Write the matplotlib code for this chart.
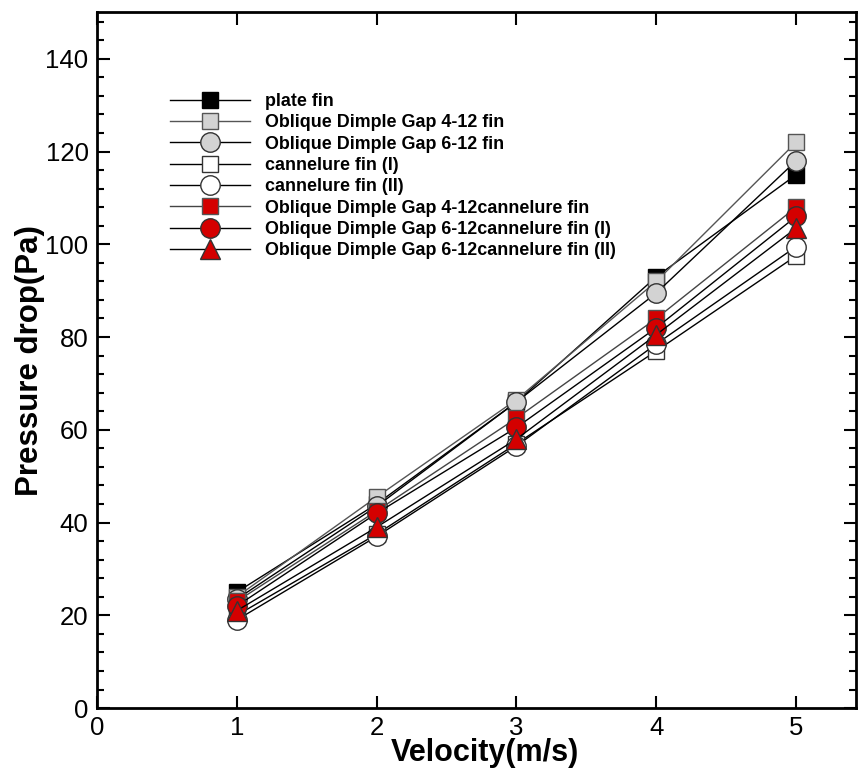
import matplotlib
matplotlib.use("Agg")
import matplotlib.pyplot as plt
from matplotlib.ticker import MultipleLocator

plt.rcParams['font.family'] = ['Liberation Sans', 'DejaVu Sans']

velocity = [1, 2, 3, 4, 5]

plate_fin = [25.0, 44.0, 66.0, 93.0, 115.0]
odg_4_12 = [24.0, 45.5, 66.5, 92.0, 122.0]
odg_6_12 = [23.5, 43.5, 66.0, 89.5, 118.0]
cannelure_1 = [20.0, 37.5, 57.0, 77.0, 97.5]
cannelure_2 = [19.0, 37.0, 56.5, 78.5, 99.5]
odg_4_12_cann = [23.0, 42.5, 62.5, 84.0, 108.0]
odg_6_12_cann_1 = [22.0, 42.0, 60.5, 82.0, 106.0]
odg_6_12_cann_2 = [21.0, 39.0, 58.0, 80.5, 103.5]

labels = [
    "plate fin",
    "Oblique Dimple Gap 4-12 fin",
    "Oblique Dimple Gap 6-12 fin",
    "cannelure fin (I)",
    "cannelure fin (II)",
    "Oblique Dimple Gap 4-12cannelure fin",
    "Oblique Dimple Gap 6-12cannelure fin (I)",
    "Oblique Dimple Gap 6-12cannelure fin (II)",
]
series = [plate_fin, odg_4_12, odg_6_12, cannelure_1, cannelure_2,
          odg_4_12_cann, odg_6_12_cann_1, odg_6_12_cann_2]

styles = [
    dict(marker='s', mfc='black', mec='black', ms=11, color='black'),
    dict(marker='s', mfc='#d3d3d3', mec='#555555', ms=11, color='#555555'),
    dict(marker='o', mfc='#d3d3d3', mec='#333333', ms=14, color='black'),
    dict(marker='s', mfc='white', mec='#333333', ms=11, color='black'),
    dict(marker='o', mfc='white', mec='#333333', ms=14, color='black'),
    dict(marker='s', mfc='#d40000', mec='#555555', ms=11, color='#444444'),
    dict(marker='o', mfc='#d40000', mec='#333333', ms=14, color='black'),
    dict(marker='^', mfc='#d40000', mec='#333333', ms=14, color='black'),
]

fig = plt.figure(figsize=(8.58, 7.73), dpi=100)
ax = fig.add_axes([0.113, 0.084, 0.885, 0.9])

for vals, lab, st in zip(series, labels, styles):
    ax.plot(velocity, vals, lw=1.0, mew=1.0, label=lab, **st)

ax.set_xlim(0, 5.43)
ax.set_ylim(0, 150)
ax.xaxis.set_major_locator(MultipleLocator(1))
ax.yaxis.set_major_locator(MultipleLocator(20))
ax.yaxis.set_minor_locator(MultipleLocator(4))
ax.tick_params(which='both', direction='in', top=True, right=True, width=1.5)
ax.tick_params(which='major', length=9, labelsize=18.5, pad=6)
ax.tick_params(which='minor', length=5)
for sp in ax.spines.values():
    sp.set_linewidth(2)

ax.set_xlabel("Velocity(m/s)", fontsize=22, fontweight='bold', labelpad=0)
ax.xaxis.set_label_coords(0.511, -0.043, transform=ax.transAxes)
ax.xaxis.label.set_va('top')
ax.set_ylabel("Pressure drop(Pa)", fontsize=22.5, fontweight='bold', labelpad=0)

leg = ax.legend(loc='upper left', bbox_to_anchor=(0.096, 0.884), frameon=False,
                borderaxespad=0, borderpad=0,
                handlelength=4.5, handletextpad=0.83, labelspacing=0.24,
                prop=dict(size=12.9, weight='bold'), markerscale=1.0)

fig.savefig("out.png", dpi=100)
